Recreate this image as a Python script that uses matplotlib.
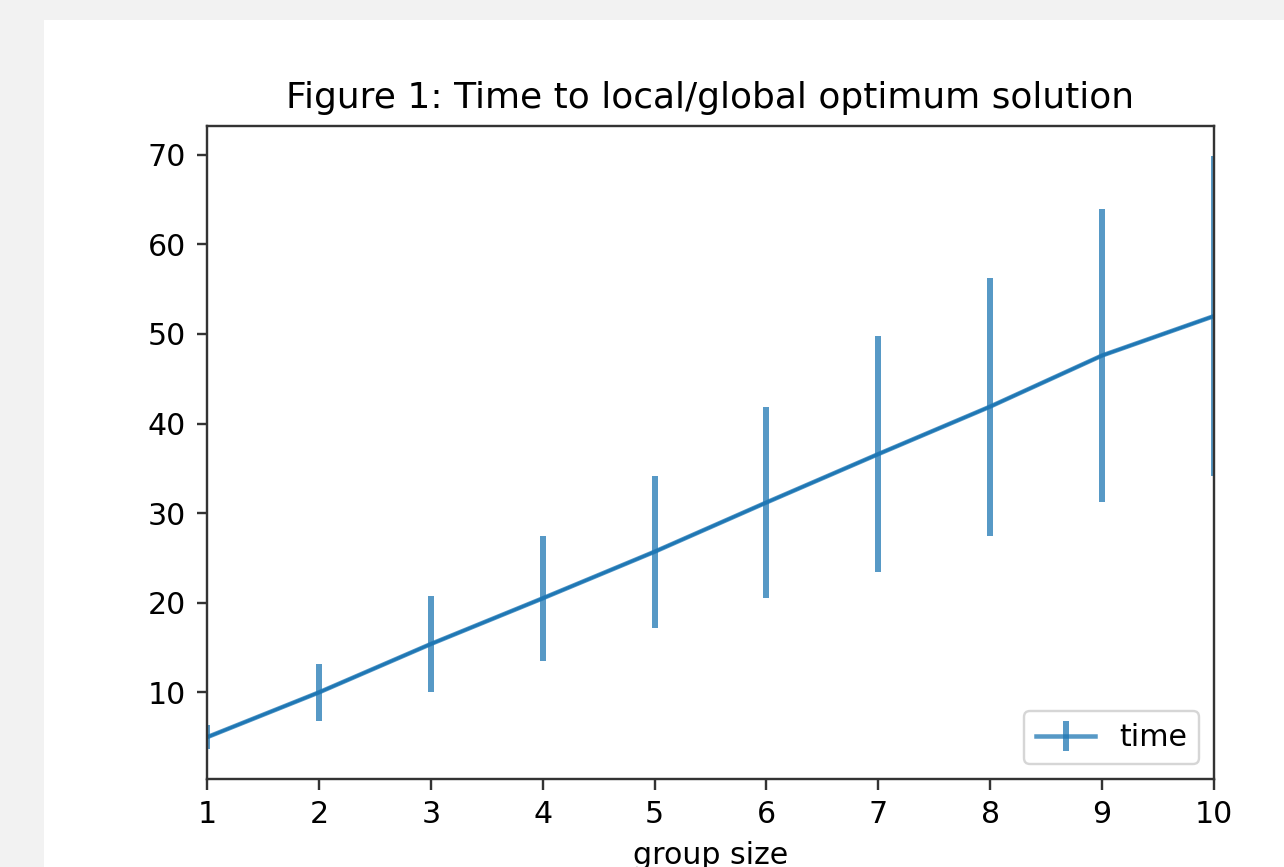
import matplotlib
matplotlib.use("Agg")
from matplotlib import pyplot as plt
from matplotlib.patches import Rectangle

group_size = [1, 2, 3, 4, 5, 6, 7, 8, 9, 10]
time_mean = [5.0, 10.0, 15.4, 20.5, 25.7, 31.2, 36.6, 41.9, 47.6, 52.0]
time_err = [1.35, 3.15, 5.35, 7.0, 8.5, 10.7, 13.2, 14.4, 16.4, 17.9]

# screenshot is a ~3x upscaled 72 dpi notebook figure
s = 3 * 72 / 100

fig = plt.figure(figsize=(12.84, 8.67), dpi=100, facecolor='#f2f2f2')
fig.patches.append(Rectangle((44 / 1284, 0), 1, 1 - 20 / 867, transform=fig.transFigure,
                             facecolor='white', edgecolor='none', zorder=-1))

ax = fig.add_axes([207 / 1284, 1 - 779 / 867, (1214 - 207) / 1284, (779 - 126) / 867])
ax.errorbar(group_size, time_mean, yerr=time_err, color='#1f77b4', alpha=0.75,
            lw=1.5 * s, elinewidth=2 * s, label='time')
ax.plot(group_size, time_mean, color='#1f77b4', lw=1.0 * s)

ax.set_xlim(1, 10)
ax.set_xticks(group_size)
ax.set_yticks([10, 20, 30, 40, 50, 60, 70])
ax.set_title('Figure 1: Time to local/global optimum solution', fontsize=12 * s, pad=6 * s)
ax.set_xlabel('group size', fontsize=10 * s, labelpad=4 * s)
ax.tick_params(labelsize=10 * s, length=3.5 * s, width=0.8 * s, pad=3.5 * s, color='#333333')
for sp in ax.spines.values():
    sp.set_linewidth(0.8 * s)
    sp.set_color('#333333')
leg = ax.legend(loc='lower right', fontsize=10 * s, handlelength=2 * s / 2.2,
                borderpad=0.4, framealpha=0.8)
leg.get_frame().set_linewidth(0.8 * s)

fig.savefig('out.png', dpi=100, facecolor=fig.get_facecolor())
